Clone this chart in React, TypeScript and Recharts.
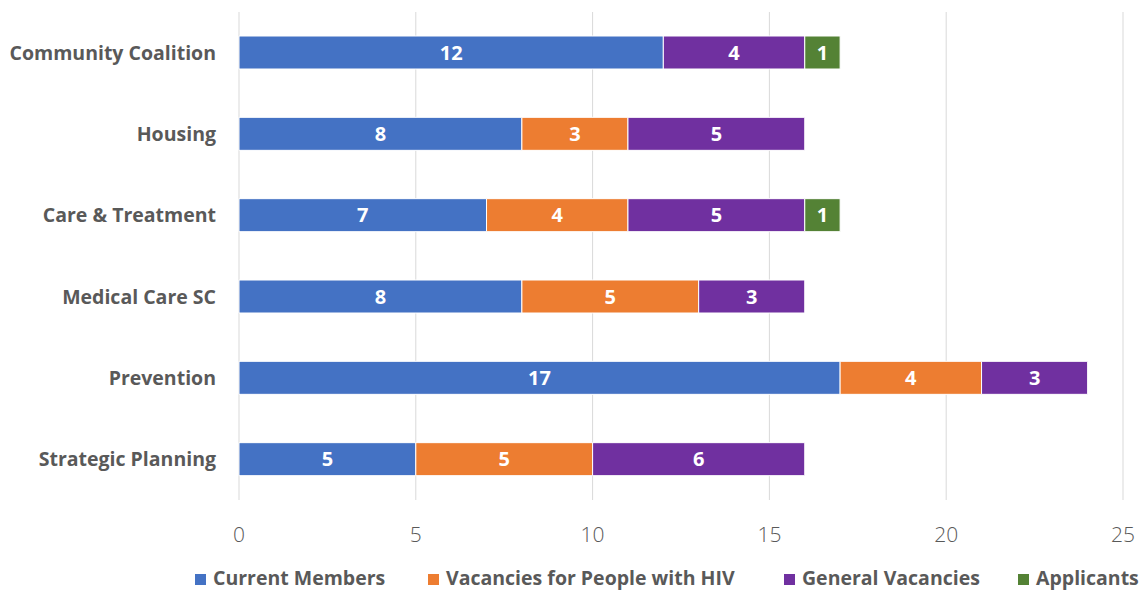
import React from 'react';
import { BarChart, Bar, XAxis, YAxis, CartesianGrid, Legend, LabelList } from 'recharts';

const categories = ['Community Coalition', 'Housing', 'Care & Treatment', 'Medical Care SC', 'Prevention', 'Strategic Planning'];
const currentMembers = [12, 8, 7, 8, 17, 5];
const vacanciesHIV = [0, 3, 4, 5, 4, 5];
const generalVacancies = [4, 5, 5, 3, 3, 6];
const applicants = [1, 0, 1, 0, 0, 0];
const xTicks = [0, 5, 10, 15, 20, 25];

const seriesNames = ['Current Members', 'Vacancies for People with HIV', 'General Vacancies', 'Applicants'];
const seriesKeys = ['current', 'hiv', 'general', 'applicants'];
const seriesColors = ['#4472C4', '#ED7D31', '#7030A0', '#548235'];

const data = categories.map((name, i) => ({
  name,
  current: currentMembers[i],
  hiv: vacanciesHIV[i],
  general: generalVacancies[i],
  applicants: applicants[i],
}));

const TEXT = '#595959';
const FONT = '"Open Sans", "Noto Sans", sans-serif';
const legendLeft = [195, 428, 784, 1018];

const LegendContent = () => (
  <div style={{ position: 'relative', height: 26, width: 1140, whiteSpace: 'nowrap', fontFamily: FONT, fontWeight: 700, fontSize: 19.5, color: TEXT, lineHeight: '26px' }}>
    {seriesNames.map((n, i) => (
      <div key={n} style={{ position: 'absolute', left: legendLeft[i], top: 0, display: 'flex', alignItems: 'center' }}>
        <span style={{ display: 'inline-block', width: 11, height: 11, background: seriesColors[i], marginRight: 7, marginTop: 3 }} />
        <span>{n}</span>
      </div>
    ))}
  </div>
);

const fmt = (v: any) => (v ? v : '');

export default function App() {
  return (
    <div style={{ position: 'absolute', left: 0, top: 0, width: 1140, height: 592, overflow: 'hidden', background: '#fff' }}>
      <BarChart
        width={1140}
        height={592}
        data={data}
        layout="vertical"
        margin={{ top: 12, right: 17, bottom: 52, left: 0 }}
      >
        <CartesianGrid horizontal={false} vertical={true} stroke="#d9d9d9" />
        <XAxis
          type="number"
          domain={[0, 25]}
          ticks={xTicks}
          axisLine={false}
          tickLine={false}
          tickSize={0}
          tickMargin={27}
          height={40}
          interval={0}
          tick={{ fill: TEXT, fontSize: 21, fontFamily: FONT, fontWeight: 300 }}
        />
        <YAxis
          type="category"
          dataKey="name"
          width={239}
          axisLine={false}
          tickLine={false}
          tickSize={0}
          tickMargin={23}
          interval={0}
          tick={{ fill: TEXT, fontSize: 19.5, fontFamily: FONT, fontWeight: 700 }}
        />
        <Legend layout="horizontal" verticalAlign="middle" align="center" content={<LegendContent />} wrapperStyle={{ top: 565, left: 0, width: 1140 }} />
        {seriesKeys.map((k, i) => (
          <Bar key={k} dataKey={k} name={seriesNames[i]} stackId="a" fill={seriesColors[i]} stroke="#ffffff" strokeWidth={1} barSize={33} isAnimationActive={false}>
            <LabelList dataKey={k} position="center" formatter={fmt} fill="#ffffff" style={{ fontFamily: FONT, fontWeight: 700, fontSize: 20 }} />
          </Bar>
        ))}
      </BarChart>
    </div>
  );
}
